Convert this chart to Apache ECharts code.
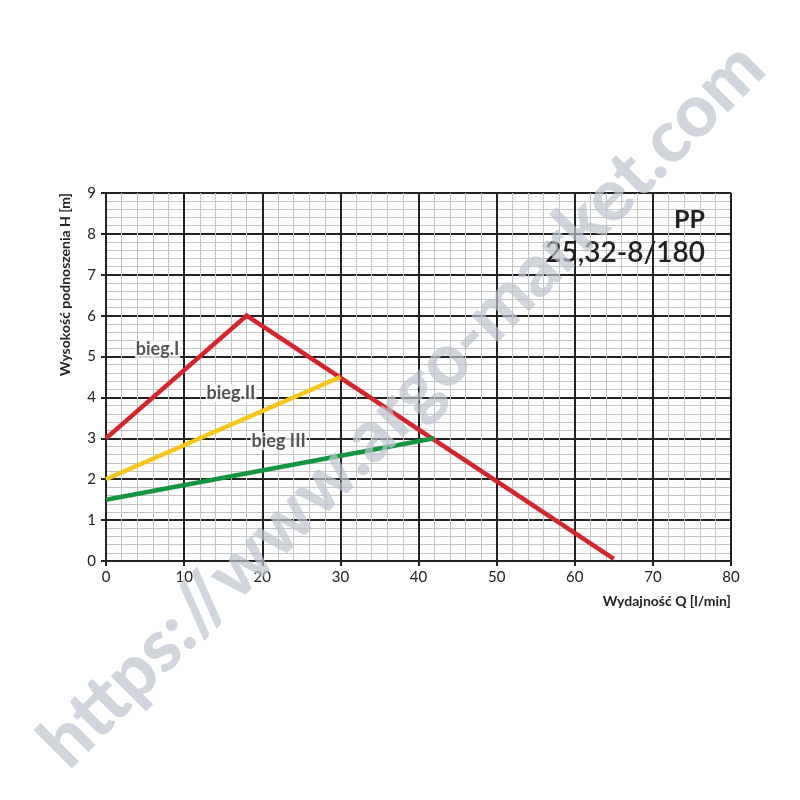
<!DOCTYPE html>
<html>
<head>
<meta charset="utf-8">
<script src="https://cdn.jsdelivr.net/npm/echarts@6/dist/echarts.min.js"></script>
<style>
  html, body { margin: 0; padding: 0; background: #fff; }
  #chart { width: 800px; height: 800px; }
</style>
</head>
<body>
<div id="chart"></div>
<script>
// dane
const qTicks = [0, 10, 20, 30, 40, 50, 60, 70, 80];
const bieg1 = [[0, 3], [18, 6], [65, 0.05]];
const bieg2 = [[0, 2], [30, 4.5]];
const bieg3 = [[0, 1.5], [42, 3]];
const labelNames = ['bieg.I', 'bieg.II', 'bieg III'];
const labelPos = [[6.6, 5.18], [16, 4.1], [22.1, 2.93]];

const dark = '#222';
const font = 'Lato, "Open Sans", sans-serif';

let chart = echarts.init(document.getElementById('chart'));

function lineSeries(name, data, color) {
    return {
        name: name,
        type: 'line',
        data: data,
        symbol: 'none',
        z: 5,
        lineStyle: { color: color, width: 4.5, cap: 'butt', join: 'miter' }
    };
}

let labelSeries = {
    type: 'scatter',
    symbolSize: 0,
    z: 6,
    data: labelPos.map((p, i) => ({ value: p, name: labelNames[i] })),
    label: {
        show: true,
        position: 'inside',
        formatter: p => p.name,
        color: '#2a2a2a',
        fontFamily: font,
        fontSize: 18,
        fontWeight: 'bold',
        backgroundColor: '#fff',
        padding: [0, 1, 0, 1]
    },
    silent: true
};

chart.setOption({
    backgroundColor: '#fff',
    animation: false,
    grid: { left: 106, right: 69, top: 193, bottom: 239 },
    xAxis: {
        type: 'value',
        min: 0,
        max: 80,
        interval: 10,
        name: 'Wydajność Q [l/min]',
        nameLocation: 'end',
        nameGap: 0,
        nameTextStyle: {
            color: dark, fontFamily: font, fontSize: 14, fontWeight: 'bold',
            align: 'right', verticalAlign: 'top', padding: [33, 0, 0, 0]
        },
        axisLine: { show: true, lineStyle: { color: dark, width: 2 } },
        axisTick: { show: true, length: 5, lineStyle: { color: dark, width: 2 } },
        axisLabel: { color: dark, fontFamily: font, fontSize: 15, margin: 9 },
        splitLine: { show: true, lineStyle: { color: dark, width: 2 } },
        minorTick: { show: false, splitNumber: 5 },
        minorSplitLine: { show: true, lineStyle: { color: '#c4c4c4', width: 1 } }
    },
    yAxis: {
        type: 'value',
        min: 0,
        max: 9,
        interval: 1,
        name: 'Wysokość podnoszenia H [m]',
        nameLocation: 'end',
        nameRotate: 90,
        nameGap: 0,
        nameTextStyle: {
            color: dark, fontFamily: font, fontSize: 14, fontWeight: 'bold',
            align: 'right', verticalAlign: 'bottom', padding: [0, 0, 34, 0]
        },
        axisLine: { show: true, lineStyle: { color: dark, width: 2 } },
        axisTick: { show: true, length: 5, lineStyle: { color: dark, width: 2 } },
        axisLabel: { color: dark, fontFamily: font, fontSize: 15, margin: 10 },
        splitLine: { show: true, lineStyle: { color: dark, width: 2 } },
        minorTick: { show: false, splitNumber: 5 },
        minorSplitLine: { show: true, lineStyle: { color: '#c4c4c4', width: 1 } }
    },
    graphic: [
        {
            type: 'text', right: 95, top: 207, z: 10,
            style: { text: 'PP', fill: dark, font: 'bold 25px ' + font }
        },
        {
            type: 'text', right: 95, top: 239, z: 10,
            style: { text: '25,32-8/180', fill: dark, font: '600 28px ' + font }
        },
        {
            type: 'text', x: 402, y: 405, rotation: Math.PI / 4, z: 100, silent: true,
            style: {
                text: 'https://www.argo-market.com',
                fill: 'rgba(190,196,206,0.7)',
                font: '900 73px ' + font,
                textAlign: 'center',
                textVerticalAlign: 'middle'
            }
        }
    ],
    series: [
        lineSeries('bieg.I', bieg1, '#d8232a'),
        lineSeries('bieg.II', bieg2, '#f7c616'),
        lineSeries('bieg III', bieg3, '#14953f'),
        labelSeries
    ]
});
</script>
</body>
</html>
